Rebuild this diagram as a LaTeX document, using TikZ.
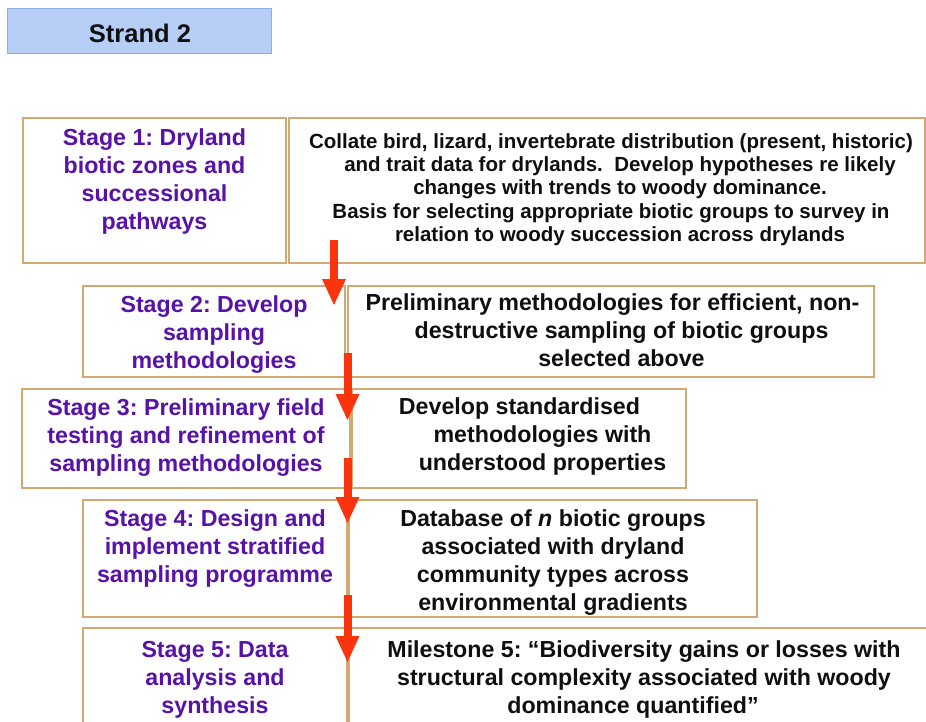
\documentclass[tikz,border=0pt]{standalone}
\usepackage{fontspec}
\setmainfont{Liberation Sans}
\usetikzlibrary{arrows.meta}
\frenchspacing
\definecolor{purp}{RGB}{88,18,168}
\definecolor{tanline}{RGB}{212,168,115}
\definecolor{ared}{RGB}{250,52,12}
\definecolor{sfill}{RGB}{182,206,245}
\definecolor{sdraw}{RGB}{140,175,228}
\definecolor{ink}{RGB}{15,15,15}
\begin{document}
\begin{tikzpicture}[x=1pt,y=-1pt,
  box/.style={draw=tanline,line width=1.5pt,fill=white,rectangle,inner sep=0pt,outer sep=0pt},
  stxt/.style={text=purp,font=\fontsize{23.2}{28}\selectfont\bfseries\frenchspacing,align=center,inner sep=0pt,anchor=north,
    execute at begin node=\strut,execute at end node=\strut},
  btxt/.style={stxt,text=ink},
  bsmall/.style={btxt,font=\fontsize{20.5}{23.1}\selectfont\bfseries\frenchspacing},
  flow/.style={draw=ared,line width=8pt,-{Triangle[width=24pt,length=26pt,line width=0pt]}}
]
\useasboundingbox (0,0) rectangle (926,722);
\fill[white] (0,0) rectangle (926,722);

% boxes
\node[box,fill=sfill,draw=sdraw,line width=1pt,minimum width=264pt,minimum height=45pt] (strand) at (139,31.5) {};
\node[box,minimum width=263pt,minimum height=145pt] (s1l) at (154.5,190.5) {};
\node[box,minimum width=636pt,minimum height=145pt] (s1r) at (607,190.5) {};
\node[box,minimum width=262pt,minimum height=91pt] (s2l) at (214,331.5) {};
\node[box,minimum width=526pt,minimum height=91pt] (s2r) at (611,331.5) {};
\node[box,minimum width=328pt,minimum height=99pt] (s3l) at (186,438.5) {};
\node[box,minimum width=334pt,minimum height=99pt] (s3r) at (519,438.5) {};
\node[box,minimum width=264pt,minimum height=117pt] (s4l) at (215,558.5) {};
\node[box,minimum width=408pt,minimum height=117pt] (s4r) at (553,558.5) {};
\node[box,minimum width=264pt,minimum height=102pt] (s5l) at (215,679) {};
\node[box,minimum width=586pt,minimum height=102pt] (s5r) at (642,679) {};

% texts
\node[font=\fontsize{25.5}{28}\selectfont\bfseries,text=ink,anchor=base,inner sep=0pt] (t0) at (140,42.3) {Strand 2};

\node[stxt] (t1l) at (154.5,128.7) {Stage 1: Dryland\\biotic zones and\\successional\\pathways};
\node[bsmall] (t1r) at (611,133.7) {Collate bird, lizard, invertebrate distribution (present, historic)\\
  \hspace*{18pt}and trait data for drylands.~ Develop hypotheses re likely\\
  \hspace*{18pt}changes with trends to woody dominance.\\
  Basis for selecting appropriate biotic groups to survey in\\
  \hspace*{18pt}relation to woody succession across drylands};

\node[stxt] (t2l) at (214,295.7) {Stage 2: Develop\\sampling\\methodologies};
\node[btxt] (t2r) at (612.5,293.7) {Preliminary methodologies for efficient, non-\\
  \hspace*{18pt}destructive sampling of biotic groups\\
  \hspace*{18pt}selected above};

\node[stxt] (t3l) at (186,398.4) {Stage 3: Preliminary field\\testing and refinement of\\sampling methodologies};
\node[btxt] (t3r) at (519.5,397.7) {Develop standardised\\
  \hspace*{46pt}methodologies with\\
  \hspace*{46pt}understood properties};

\node[stxt] (t4l) at (215,509.7) {Stage 4: Design and\\implement stratified\\sampling programme};
\node[btxt] (t4r) at (553,509) {Database of \textit{n} biotic groups\\associated with dryland\\community types across\\environmental gradients};

\node[stxt] (t5l) at (215,640.7) {Stage 5: Data\\analysis and\\synthesis};
\node[btxt] (t5r) at (644,640.7) {Milestone 5: “Biodiversity gains or losses with\\
  structural complexity associated with woody\\
  \hspace*{-22pt}dominance quantified”};

% arrows
\coordinate (a1s) at (334,240);
\coordinate (a1e) at (334,305);
\coordinate (a2s) at (347.5,353);
\coordinate (a2e) at (347.5,420);
\coordinate (a3s) at (347.5,458);
\coordinate (a3e) at (347.5,523);
\coordinate (a4s) at (347.5,595);
\coordinate (a4e) at (347.5,662);
\draw[flow] (a1s) -- (a1e);
\draw[flow] (a2s) -- (a2e);
\draw[flow] (a3s) -- (a3e);
\draw[flow] (a4s) -- (a4e);
\end{tikzpicture}
\end{document}
